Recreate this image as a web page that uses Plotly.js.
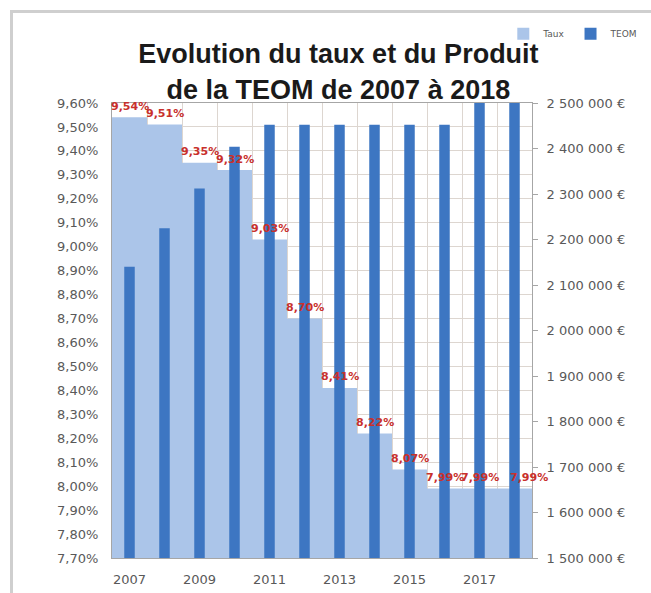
<!DOCTYPE html>
<html>
<head>
<meta charset="utf-8">
<script src="https://cdn.plot.ly/plotly-3.0.1.min.js"></script>
<style>
  html, body { margin: 0; padding: 0; background: #fff; }
  #teom-chart {
    position: absolute; left: 10px; top: 10px;
    width: 638px; height: 580px;
    border-left: 3px solid #cfcfcf; border-top: 3px solid #cfcfcf;
  }
</style>
</head>
<body>
<div id="teom-chart"></div>
<script>
// taux (%) et produit de la TEOM (€) par année
const years = [2007, 2008, 2009, 2010, 2011, 2012, 2013, 2014, 2015, 2016, 2017, 2018];
const taux = [9.54, 9.51, 9.35, 9.32, 9.03, 8.70, 8.41, 8.22, 8.07, 7.99, 7.99, 7.99];
const teom = [2140000, 2225000, 2312000, 2404000, 2452000, 2452000,
              2452000, 2452000, 2452000, 2452000, 2540000, 2540000];
const tauxLabels = taux.map((v) => v.toFixed(2).replace(".", ",") + "%");

const grey = "#595959";
const tickFont = { family: "DejaVu Sans", size: 13, color: grey };

const tauxTrace = {
  x: years,
  y: taux,
  type: "bar",
  name: "Taux",
  width: 1,
  marker: { color: "#abc5e9", line: { width: 0 } },
  hoverinfo: "skip",
};

const teomTrace = {
  x: years,
  y: teom,
  yaxis: "y2",
  type: "bar",
  name: "TEOM",
  width: 0.3,
  marker: { color: "#3d76c2", line: { width: 0 } },
  hoverinfo: "skip",
};

// red value labels above the taux steps (last one nudged right like the original)
const labels = years.map((yr, i) => ({
  x: yr,
  y: taux[i],
  xref: "x",
  yref: "y",
  text: "<b>" + tauxLabels[i] + "</b>",
  showarrow: false,
  yshift: 11,
  xshift: i === years.length - 1 ? 14 : 0,
  font: { family: "DejaVu Sans", size: 11, color: "#c8302c" },
}));

Plotly.newPlot("teom-chart", [tauxTrace, teomTrace], {
  width: 638,
  height: 580,
  margin: { l: 99, r: 119, t: 90, b: 35, autoexpand: false },
  paper_bgcolor: "#ffffff",
  plot_bgcolor: "#ffffff",
  separators: ", ",
  barmode: "overlay",
  showlegend: true,
  title: {
    text: "Evolution du taux et du Produit<br>de la TEOM de 2007 à 2018",
    font: { family: "Liberation Sans", size: 27, color: "#1a1a1a", weight: "bold" },
    xref: "container",
    x: 0.51,
    yref: "container",
    y: 0.913,
    xanchor: "center",
    yanchor: "middle",
  },
  legend: {
    orientation: "h",
    x: 1.265,
    xanchor: "right",
    y: 1.152,
    yanchor: "middle",
    itemwidth: 30,
    font: { family: "DejaVu Sans", size: 9, color: grey },
    bgcolor: "rgba(0,0,0,0)",
  },
  xaxis: {
    range: [2006.5, 2018.5],
    tick0: 2007,
    dtick: 2,
    showgrid: false,
    minor: { tick0: 2006.5, dtick: 1, showgrid: true, gridcolor: "#ddd6d0", gridwidth: 1 },
    showline: true,
    linecolor: "#a6a6a6",
    mirror: true,
    ticks: "",
    ticklabelstandoff: 9,
    tickfont: tickFont,
    zeroline: false,
  },
  yaxis: {
    range: [7.7, 9.6],
    tick0: 7.7,
    dtick: 0.1,
    tickformat: ".2f",
    ticksuffix: "%",
    showgrid: true,
    gridcolor: "#ddd6d0",
    showline: true,
    linecolor: "#a6a6a6",
    ticks: "",
    ticklabelstandoff: 10,
    tickfont: tickFont,
    zeroline: false,
  },
  yaxis2: {
    overlaying: "y",
    side: "right",
    range: [1500000, 2500000],
    dtick: 100000,
    tickformat: ",.0f",
    ticksuffix: " €",
    showgrid: false,
    showline: true,
    linecolor: "#a6a6a6",
    ticks: "outside",
    ticklen: 5,
    tickcolor: "#a6a6a6",
    ticklabelstandoff: 6,
    tickfont: tickFont,
    zeroline: false,
  },
  annotations: labels,
}, { staticPlot: true });
</script>
</body>
</html>
